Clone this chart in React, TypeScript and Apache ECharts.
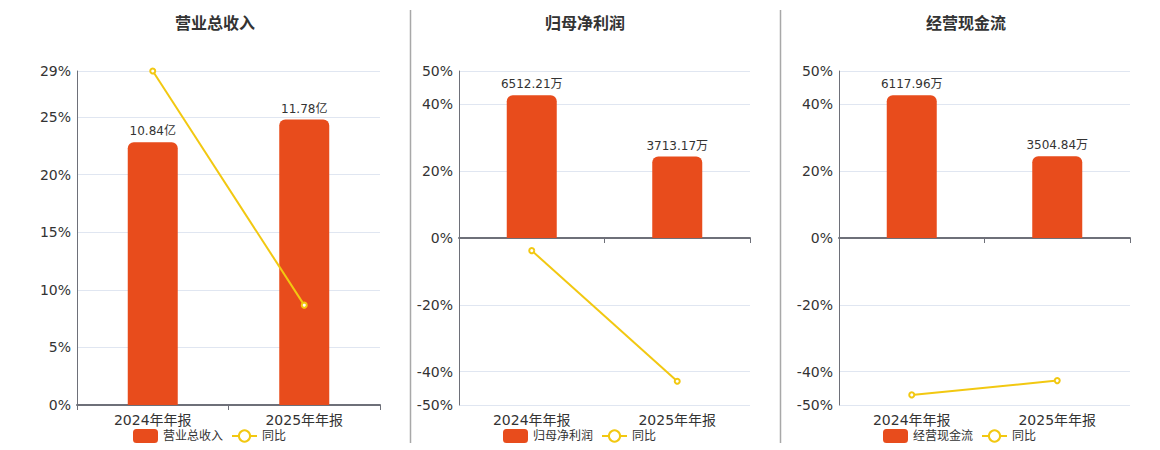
import React, { useEffect, useRef } from "react";
import * as echarts from "echarts";

const categories = ["2024年年报", "2025年年报"];
const titles = ["营业总收入", "归母净利润", "经营现金流"];
const barValues1 = [10.84, 11.78];
const barValues2 = [6512.21, 3713.17];
const barValues3 = [6117.96, 3504.84];
const barUnits = ["亿", "万", "万"];
const yoy1 = [29.0, 8.67];
const yoy2 = [-3.78, -42.9];
const yoy3 = [-46.97, -42.7];
const yoyName = "同比";

const BAR = "#E84C1C";
const LINE = "#F2C811";
const TXT = "#333";
const AXIS = "#6E7079";
const SPLIT = "#E0E6F1";
const FONT = "DejaVu Sans, Noto Sans CJK SC, sans-serif";

export default function App() {
  const ref = useRef<HTMLDivElement>(null);
  useEffect(() => {
    document.body.style.margin = "0";
    const chart = echarts.init(ref.current!, undefined, { renderer: "svg" });
    const bars = [barValues1, barValues2, barValues3];
    const yoys = [yoy1, yoy2, yoy3];
    const grids = [
      { left: 77, top: 71, width: 303, height: 334, outerBoundsMode: "none", containLabel: false },
      { left: 459, top: 71, width: 291, height: 334, outerBoundsMode: "none", containLabel: false },
      { left: 839, top: 71, width: 291, height: 334, outerBoundsMode: "none", containLabel: false },
    ];
    const titleX = [210, 580, 961];
    const legendX = [128, 498, 878];
    const option: any = {
      animation: false,
      textStyle: { fontFamily: FONT },
      title: titles.map((t, i) => ({
        text: t,
        left: titleX[i],
        textAlign: "center",
        top: 10,
        textStyle: { fontSize: 16, fontWeight: "bold", color: TXT, fontFamily: FONT },
      })),
      legend: titles.map((t, i) => ({
        data: [t, yoyName].map((n) => ({ name: n })),
        left: legendX[i],
        top: 424,
        itemWidth: 25,
        itemHeight: 14,
        textStyle: { fontSize: 12, color: TXT, fontFamily: FONT },
        selectedMode: false,
      })),
      grid: grids,
      xAxis: grids.map((_, i) => ({
        type: "category",
        gridIndex: i,
        data: categories,
        axisLine: { show: true, onZero: true, onZeroAxisIndex: i * 2, lineStyle: { color: AXIS, width: 2 } },
        axisTick: { show: true, length: 5, lineStyle: { color: AXIS } },
        axisLabel: { fontSize: 14, color: TXT, margin: 8, fontFamily: FONT },
        splitLine: { show: false },
      })),
      yAxis: [] as any[],
      series: [] as any[],
      graphic: [410.5, 780.5].map((x) => ({
        type: "line",
        shape: { x1: x, y1: 10, x2: x, y2: 443 },
        style: { stroke: "#A8A8A8", lineWidth: 1.5 },
      })),
    };
    for (let i = 0; i < 3; i++) {
      const maxBar = Math.max(...bars[i]) * 1.17;
      option.yAxis.push({
        type: "value",
        gridIndex: i,
        min: i === 0 ? 0 : -50,
        max: i === 0 ? 29 : 50,
        axisLine: { show: true, lineStyle: { color: AXIS } },
        axisTick: { show: false },
        axisLabel: { fontSize: 14, color: TXT, margin: 6, formatter: "{value}%", fontFamily: FONT },
        splitLine: { show: true, lineStyle: { color: SPLIT } },
      });
      option.yAxis.push({
        type: "value",
        gridIndex: i,
        show: false,
        min: i === 0 ? 0 : -maxBar,
        max: maxBar,
        splitLine: { show: false },
      });
      option.series.push({
        type: "bar",
        name: titles[i],
        xAxisIndex: i,
        yAxisIndex: i * 2 + 1,
        data: bars[i],
        barWidth: 50,
        itemStyle: { color: BAR, borderRadius: [6, 6, 0, 0] },
        label: {
          show: true,
          position: "top",
          distance: 5,
          fontSize: 12,
          color: TXT,
          fontFamily: FONT,
          formatter: (p: any) => `${p.value}${barUnits[i]}`,
        },
      });
      option.series.push({
        type: "line",
        name: yoyName,
        xAxisIndex: i,
        yAxisIndex: i * 2,
        data: yoys[i],
        symbol: "emptyCircle",
        symbolSize: 5,
        z: 5,
        lineStyle: { color: LINE, width: 2 },
        itemStyle: { color: LINE, borderColor: LINE, borderWidth: 1.5 },
      });
    }
    chart.setOption(option);
    return () => chart.dispose();
  }, []);
  return <div ref={ref} style={{ width: 1160, height: 450 }} />;
}
